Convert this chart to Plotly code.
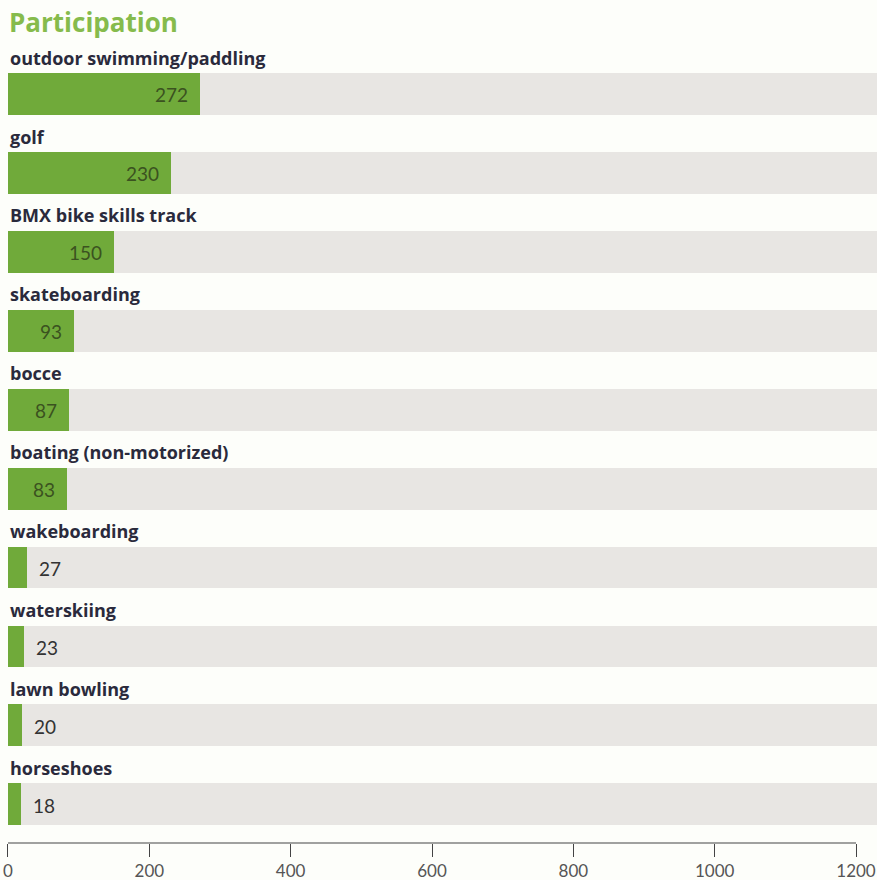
import plotly.graph_objects as go

categories = ["outdoor swimming/paddling", "golf", "BMX bike skills track", "skateboarding",
              "bocce", "boating (non-motorized)", "wakeboarding", "waterskiing",
              "lawn bowling", "horseshoes"]
values = [272, 230, 150, 93, 87, 83, 27, 23, 20, 18]
tick_vals = [0, 200, 400, 600, 800, 1000, 1200]
title = "Participation"

GREEN = "#70aa3a"
BAND = "#e8e6e3"
BG = "#fdfefa"

pos = list(range(len(categories)))

fig = go.Figure()
fig.add_trace(go.Bar(
    x=[1240] * len(categories), y=pos, orientation="h", width=0.53,
    marker=dict(color=BAND, line=dict(width=0)), hoverinfo="skip", showlegend=False,
))
fig.add_trace(go.Bar(
    x=values, y=pos, orientation="h", width=0.53,
    marker=dict(color=GREEN, line=dict(width=0)),
    showlegend=False,
))

for i, v in enumerate(values):
    inside = v >= 60
    fig.add_annotation(x=v, y=i, xref="x", yref="y", text=str(v), showarrow=False,
                       xanchor="right" if inside else "left", yanchor="middle",
                       xshift=-10 if inside else 10, yshift=-1,
                       font=dict(family="Lato", size=19,
                                 color="#3b5220" if inside else "#333333"))

for i, c in enumerate(categories):
    fig.add_annotation(x=0, y=i - 0.46, xref="x", yref="y", text=c, showarrow=False,
                       xanchor="left", yanchor="middle", xshift=0,
                       font=dict(family="Open Sans", size=18, color="#2a2a3c", weight="bold"))

fig.add_annotation(x=0, y=-0.91, xref="x", yref="y", text=title, showarrow=False,
                   xanchor="left", yanchor="middle", xshift=-1,
                   font=dict(family="Open Sans", size=26, color="#86bb4c", weight="bold"))

fig.add_shape(type="line", x0=0, x1=1200, y0=0, y1=0, xref="x", yref="paper",
              line=dict(color="#444444", width=1.2))

fig.update_layout(
    width=877, height=880, barmode="overlay", bargap=0,
    paper_bgcolor=BG, plot_bgcolor=BG,
    margin=dict(l=0, r=0, t=15, b=37),
    xaxis=dict(range=[-11.3, 1229.7], tickvals=tick_vals, ticks="outside", ticklen=13,
               tickcolor="#444444", showgrid=False, zeroline=False, showline=False,
               ticklabelstandoff=0, automargin=False,
               tickfont=dict(family="Lato", size=17, color="#555555")),
    yaxis=dict(range=[9.49, -1.0], visible=False, showgrid=False, zeroline=False,
               automargin=False),
)

fig.write_html("out.html")
